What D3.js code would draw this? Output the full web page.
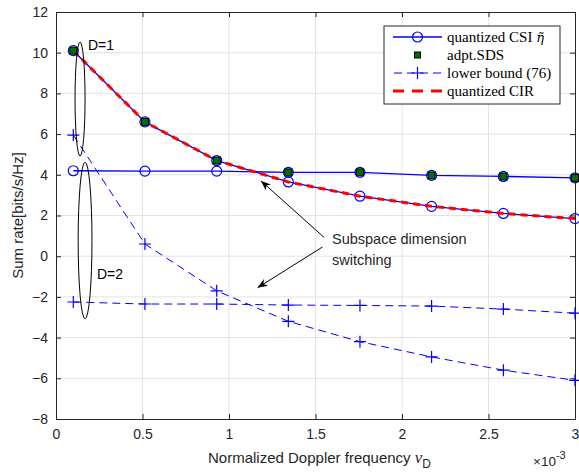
<!DOCTYPE html>
<html><head><meta charset="utf-8">
<script src="https://cdn.jsdelivr.net/npm/d3@7"></script>
<style>body{margin:0;background:#fff}svg{display:block}</style>
</head><body>
<script>
const xVals = [0.1, 0.514, 0.929, 1.343, 1.757, 2.171, 2.586, 3.0];
const csiD1 = [10.1, 6.6, 4.7, 3.65, 2.95, 2.45, 2.1, 1.85];
const csiD2 = [4.2, 4.18, 4.18, 4.12, 4.12, 3.97, 3.92, 3.85];
const sds   = [10.1, 6.6, 4.7, 4.12, 4.12, 3.97, 3.92, 3.85];
const lbD1  = [5.95, 0.6, -1.7, -3.2, -4.2, -4.95, -5.6, -6.1];
const lbD2  = [-2.25, -2.35, -2.35, -2.4, -2.42, -2.45, -2.6, -2.8];
const cir   = [10.1, 6.6, 4.7, 3.65, 2.95, 2.45, 2.1, 1.85];
const xTicks = [0, 0.5, 1, 1.5, 2, 2.5, 3];
const yTicks = [-8, -6, -4, -2, 0, 2, 4, 6, 8, 10, 12];
const legendLabels = ["quantized CSI ", "adpt.SDS", "lower bound (76)", "quantized CIR"];

const W = 579, H = 472;
const m = {l: 56, r: 4, t: 12, b: 53};
const svg = d3.select("body").append("svg").attr("width", W).attr("height", H)
  .style("font-family", "'Liberation Sans', Arial, sans-serif");
const x = d3.scaleLinear().domain([0, 3]).range([m.l, W - m.r]);
const y = d3.scaleLinear().domain([-8, 12]).range([H - m.b, m.t]);

// grid
svg.append("g").selectAll("line").data(xTicks.slice(1, -1)).join("line")
  .attr("x1", d => x(d)).attr("x2", d => x(d)).attr("y1", y(-8)).attr("y2", y(12))
  .attr("stroke", "#e3e3e3").attr("stroke-width", 1);
svg.append("g").selectAll("line").data(yTicks.slice(1, -1)).join("line")
  .attr("y1", d => y(d)).attr("y2", d => y(d)).attr("x1", x(0)).attr("x2", x(3))
  .attr("stroke", "#e3e3e3").attr("stroke-width", 1);

// axes
const fs = 14;
const ax = svg.append("g").attr("transform", `translate(0,${y(-8)})`)
  .call(d3.axisBottom(x).tickValues(xTicks).tickSizeInner(-5).tickSizeOuter(0).tickPadding(10).tickFormat(d3.format("")));
const ax2 = svg.append("g").attr("transform", `translate(0,${y(12)})`)
  .call(d3.axisTop(x).tickValues(xTicks).tickSizeInner(-5).tickSizeOuter(0).tickFormat(""));
const ay = svg.append("g").attr("transform", `translate(${x(0)},0)`)
  .call(d3.axisLeft(y).tickValues(yTicks).tickSizeInner(-5).tickSizeOuter(0).tickPadding(8));
const ay2 = svg.append("g").attr("transform", `translate(${x(3)},0)`)
  .call(d3.axisRight(y).tickValues(yTicks).tickSizeInner(-5).tickSizeOuter(0).tickFormat(""));
[ax, ax2, ay, ay2].forEach(g => {
  g.selectAll("path").attr("stroke", "#262626");
  g.selectAll("line").attr("stroke", "#262626");
  g.selectAll("text").attr("fill", "#262626").style("font-size", fs + "px").style("font-family", "'Liberation Sans', Arial, sans-serif");
});

// axis labels
svg.append("text").attr("x", 18).attr("y", (y(12) + y(-8)) / 2)
  .attr("transform", `rotate(-90,18,${(y(12) + y(-8)) / 2})`).attr("text-anchor", "middle")
  .attr("dy", "0.35em").style("font-size", "15px").attr("fill", "#262626").text("Sum rate[bits/s/Hz]");
const xl = svg.append("text").attr("x", (x(0) + x(3)) / 2 + 4).attr("y", 463).attr("text-anchor", "middle")
  .style("font-size", "15px").attr("fill", "#262626");
xl.append("tspan").text("Normalized Doppler frequency ");
xl.append("tspan").style("font-family", "'Liberation Serif', serif").style("font-style", "italic").style("font-size", "17px").text("ν");
xl.append("tspan").attr("dy", 5).style("font-size", "12px").text("D");
const ex = svg.append("text").attr("x", 533).attr("y", 466).style("font-size", "13.5px").attr("fill", "#262626");
ex.append("tspan").text("×10");
ex.append("tspan").attr("dy", -7).style("font-size", "11px").text("-3");

const blue = "#0000ff";
const line = d3.line().x((d, i) => x(xVals[i])).y(d => y(d));

function plotLine(data, opts) {
  svg.append("path").datum(data).attr("d", line).attr("fill", "none")
    .attr("stroke", opts.color).attr("stroke-width", opts.w).attr("stroke-dasharray", opts.dash || null);
}
function circles(data) {
  svg.append("g").selectAll("circle").data(data).join("circle")
    .attr("cx", (d, i) => x(xVals[i])).attr("cy", d => y(d)).attr("r", 5)
    .attr("fill", "none").attr("stroke", blue).attr("stroke-width", 1.2);
}
function pluses(data) {
  svg.append("g").selectAll("path").data(data).join("path")
    .attr("d", (d, i) => { const cx = x(xVals[i]), cy = y(d); return `M${cx - 6},${cy}H${cx + 6}M${cx},${cy - 6}V${cy + 6}`; })
    .attr("stroke", blue).attr("stroke-width", 1.2);
}

plotLine(csiD1, {color: blue, w: 1.3});
circles(csiD1);
plotLine(csiD2, {color: blue, w: 1.3});
circles(csiD2);
plotLine(lbD1, {color: blue, w: 1, dash: "8,5"});
pluses(lbD1);
plotLine(lbD2, {color: blue, w: 1, dash: "8,5"});
pluses(lbD2);
plotLine(cir, {color: "#ff0000", w: 3, dash: "7,5"});
svg.append("g").selectAll("rect").data(sds).join("rect")
  .attr("x", (d, i) => x(xVals[i]) - 3.5).attr("y", d => y(d) - 3.5).attr("width", 7).attr("height", 7)
  .attr("fill", "#007000").attr("stroke", "#000").attr("stroke-width", 1);

// ellipses (data coordinates)
const ell = [{cx: 0.139, cy: 7.72, rx: 0.029, ry: 2.8}, {cx: 0.168, cy: 0.77, rx: 0.04, ry: 3.85}];
svg.append("g").selectAll("ellipse").data(ell).join("ellipse")
  .attr("cx", d => x(d.cx)).attr("cy", d => y(d.cy))
  .attr("rx", d => x(d.rx) - x(0)).attr("ry", d => y(0) - y(d.ry))
  .attr("fill", "none").attr("stroke", "#000").attr("stroke-width", 1);
svg.append("text").attr("x", 88).attr("y", 50).style("font-size", "14px").attr("fill", "#000").text("D=1");
svg.append("text").attr("x", 97).attr("y", 279).style("font-size", "14px").attr("fill", "#000").text("D=2");

// annotation arrows
const defs = svg.append("defs");
defs.append("marker").attr("id", "ah").attr("viewBox", "0 0 10 10").attr("refX", 10).attr("refY", 5)
  .attr("markerWidth", 10).attr("markerHeight", 10).attr("markerUnits", "userSpaceOnUse").attr("orient", "auto")
  .append("path").attr("d", "M0,1 L10,5 L0,9 L3,5 Z").attr("fill", "#000");
const arrows = [{x1: 1.55, y1: 0.92, x2: 1.185, y2: 3.7}, {x1: 1.54, y1: 0.45, x2: 1.165, y2: -1.55}];
svg.append("g").selectAll("line").data(arrows).join("line")
  .attr("x1", d => x(d.x1)).attr("y1", d => y(d.y1)).attr("x2", d => x(d.x2)).attr("y2", d => y(d.y2))
  .attr("stroke", "#000").attr("stroke-width", 1).attr("marker-end", "url(#ah)");
svg.append("text").attr("x", 332).attr("y", 244).style("font-size", "14.5px").attr("fill", "#262626").text("Subspace dimension");
svg.append("text").attr("x", 332).attr("y", 265).style("font-size", "14.5px").attr("fill", "#262626").text("switching");

// legend
const lg = svg.append("g").style("font-family", "'Liberation Serif', 'DejaVu Serif', serif").style("font-size", "15px");
lg.append("rect").attr("x", 384).attr("y", 26).attr("width", 176).attr("height", 78)
  .attr("fill", "#fff").attr("stroke", "#262626").attr("stroke-width", 1);
const ly = [37, 55, 73, 91];
const lx1 = 393, lx2 = 442, lxm = 417.5;
lg.append("line").attr("x1", lx1).attr("x2", lx2).attr("y1", ly[0]).attr("y2", ly[0]).attr("stroke", blue).attr("stroke-width", 1.3);
lg.append("circle").attr("cx", lxm).attr("cy", ly[0]).attr("r", 5).attr("fill", "none").attr("stroke", blue).attr("stroke-width", 1.2);
lg.append("rect").attr("x", lxm - 3).attr("y", ly[1] - 3).attr("width", 6).attr("height", 6).attr("fill", "#007000").attr("stroke", "#000");
lg.append("line").attr("x1", lx1).attr("x2", lx2).attr("y1", ly[2]).attr("y2", ly[2]).attr("stroke", blue).attr("stroke-width", 1).attr("stroke-dasharray", "8,5").attr("stroke-dashoffset", -1);
lg.append("path").attr("d", `M${lxm - 6},${ly[2]}H${lxm + 6}M${lxm},${ly[2] - 6}V${ly[2] + 6}`).attr("stroke", blue).attr("stroke-width", 1.2);
lg.append("line").attr("x1", lx1).attr("x2", lx2).attr("y1", ly[3]).attr("y2", ly[3]).attr("stroke", "#ff0000").attr("stroke-width", 3).attr("stroke-dasharray", "11,8");
legendLabels.forEach((t, i) => {
  const tx = lg.append("text").attr("x", 447).attr("y", ly[i]).attr("dy", "0.35em").attr("fill", "#000").text(t);
  if (i === 0) {
    tx.append("tspan").style("font-family", "'DejaVu Serif', serif").style("font-style", "italic").style("font-size", "13px").text("η\u0303");
  }
});
</script>
</body></html>
